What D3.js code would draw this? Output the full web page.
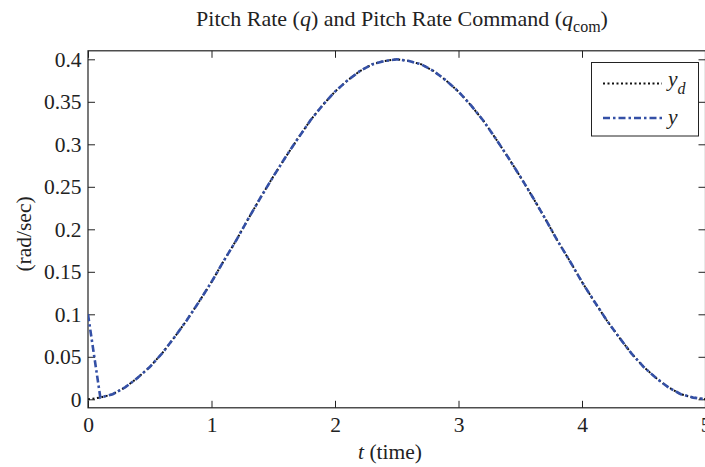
<!DOCTYPE html>
<html><head><meta charset="utf-8">
<script src="https://cdn.jsdelivr.net/npm/d3@7"></script>
<style>
body{margin:0;background:#fff;}
svg{display:block;font-family:"Liberation Serif","Times New Roman",serif;}
</style></head>
<body><svg id="c" width="705" height="467"></svg>
<script>
// time samples (s)
const tValues = [0,0.1,0.2,0.3,0.4,0.5,0.6,0.7,0.8,0.9,1.0,1.1,1.2,1.3,1.4,1.5,1.6,1.7,1.8,1.9,2.0,2.1,2.2,2.3,2.4,2.5,2.6,2.7,2.8,2.9,3.0,3.1,3.2,3.3,3.4,3.5,3.6,3.7,3.8,3.9,4.0,4.1,4.2,4.3,4.4,4.5,4.6,4.7,4.8,4.9,5.0];
// y_d (command)
const ydValues = [0,0.002,0.006,0.014,0.025,0.038,0.054,0.073,0.093,0.115,0.138,0.163,0.187,0.213,0.238,0.262,0.285,0.307,0.328,0.346,0.362,0.375,0.386,0.394,0.398,0.400,0.398,0.394,0.386,0.375,0.362,0.346,0.328,0.307,0.285,0.262,0.238,0.213,0.187,0.163,0.138,0.115,0.093,0.073,0.054,0.038,0.025,0.014,0.006,0.002,0];
// y (response)
const yTimes = [0,0.1,0.2,0.3,0.4,0.5,0.6,0.7,0.8,0.9,1.0,1.1,1.2,1.3,1.4,1.5,1.6,1.7,1.8,1.9,2.0,2.1,2.2,2.3,2.4,2.5,2.6,2.7,2.8,2.9,3.0,3.1,3.2,3.3,3.4,3.5,3.6,3.7,3.8,3.9,4.0,4.1,4.2,4.3,4.4,4.5,4.6,4.7,4.8,4.9,5.0];
const yValues = [0.100,0.002,0.006,0.014,0.025,0.038,0.054,0.073,0.093,0.115,0.138,0.163,0.187,0.213,0.238,0.262,0.285,0.307,0.328,0.346,0.362,0.375,0.386,0.394,0.398,0.400,0.398,0.394,0.386,0.375,0.362,0.346,0.328,0.307,0.285,0.262,0.238,0.213,0.187,0.163,0.138,0.115,0.093,0.073,0.054,0.038,0.025,0.014,0.006,0.002,0];
const xTicks = [0,1,2,3,4,5];
const yTicks = [0,0.05,0.1,0.15,0.2,0.25,0.3,0.35,0.4];
const yTickLabels = ["0","0.05","0.1","0.15","0.2","0.25","0.3","0.35","0.4"];

const svg = d3.select("#c");
const L=88, R=705.5, T=50.8, B=407.8;
const x = d3.scaleLinear().domain([0,5]).range([L,R]);
const y = d3.scaleLinear().domain([-0.01,0.41]).range([B,T]);
const fs = 21.5;

// axes
const gB = svg.append("g").attr("transform",`translate(0,${B})`)
  .call(d3.axisBottom(x).tickValues(xTicks).tickSize(-7).tickPadding(9).tickFormat(d3.format("d")));
const gT = svg.append("g").attr("transform",`translate(0,${T})`)
  .call(d3.axisTop(x).tickValues(xTicks).tickSize(-7).tickFormat(""));
const gL = svg.append("g").attr("transform",`translate(${L},0)`)
  .call(d3.axisLeft(y).tickValues(yTicks).tickSize(-7).tickPadding(6.5).tickFormat((d,i)=>yTickLabels[i]));
const gR = svg.append("g").attr("transform",`translate(${R},0)`)
  .call(d3.axisRight(y).tickValues(yTicks).tickSize(-7).tickFormat(""));
[gB,gT,gL,gR].forEach(g=>{
  g.select(".domain").remove();
  g.selectAll("line").attr("stroke","#222").attr("stroke-width",1);
  g.selectAll("text").attr("font-size",fs).attr("fill","#222").attr("font-family","Liberation Serif");
});
svg.append("rect").attr("x",L).attr("y",T).attr("width",R-L).attr("height",B-T)
  .attr("fill","none").attr("stroke","#222").attr("stroke-width",1.2);

// clip
svg.append("clipPath").attr("id","clip").append("rect").attr("x",L).attr("y",T).attr("width",R-L).attr("height",B-T);

const line = d3.line().x(d=>x(d[0])).y(d=>y(d[1]));
const plot = svg.append("g").attr("clip-path","url(#clip)");
plot.append("path").datum(tValues.map((t,i)=>[t,ydValues[i]])).attr("d",line)
  .attr("fill","none").attr("stroke","#111").attr("stroke-width",2).attr("stroke-dasharray","2,2.5");
plot.append("path").datum(yTimes.map((t,i)=>[t,yValues[i]])).attr("d",line)
  .attr("fill","none").attr("stroke","#3450a6").attr("stroke-width",2.6).attr("stroke-dasharray","7,3,2.5,3");

// title
const title = svg.append("text").attr("x",402).attr("y",26).attr("text-anchor","middle").attr("font-size",22).attr("fill","#222");
title.append("tspan").text("Pitch Rate (");
title.append("tspan").attr("font-style","italic").text("q");
title.append("tspan").text(") and Pitch Rate Command (");
title.append("tspan").attr("font-style","italic").text("q");
title.append("tspan").attr("font-size",16).attr("dy",6).text("com");
title.append("tspan").attr("dy",-6).text(")");

// axis labels
const xl = svg.append("text").attr("x",390).attr("y",459).attr("text-anchor","middle").attr("font-size",fs).attr("fill","#222");
xl.append("tspan").attr("font-style","italic").text("t");
xl.append("tspan").text(" (time)");
svg.append("text").attr("transform","translate(31,234) rotate(-90)").attr("text-anchor","middle").attr("font-size",fs).attr("fill","#222").text("(rad/sec)");

// legend
const lg = svg.append("g");
lg.append("rect").attr("x",591.5).attr("y",62.5).attr("width",107).attr("height",73.5).attr("fill","#fff").attr("stroke","#222").attr("stroke-width",1);
lg.append("line").attr("x1",603).attr("x2",662).attr("y1",83.5).attr("y2",83.5).attr("stroke","#111").attr("stroke-width",2).attr("stroke-dasharray","2,2.5");
lg.append("line").attr("x1",603).attr("x2",662).attr("y1",118).attr("y2",118).attr("stroke","#3450a6").attr("stroke-width",2.6).attr("stroke-dasharray","7,3,2.5,3");
const t1 = lg.append("text").attr("x",668).attr("y",86).attr("font-size",fs).attr("fill","#222");
t1.append("tspan").attr("font-style","italic").text("y");
t1.append("tspan").attr("font-style","italic").attr("font-size",16).attr("dy",8).text("d");
lg.append("text").attr("x",668).attr("y",123.5).attr("font-size",fs).attr("fill","#222").attr("font-style","italic").text("y");
</script></body></html>
